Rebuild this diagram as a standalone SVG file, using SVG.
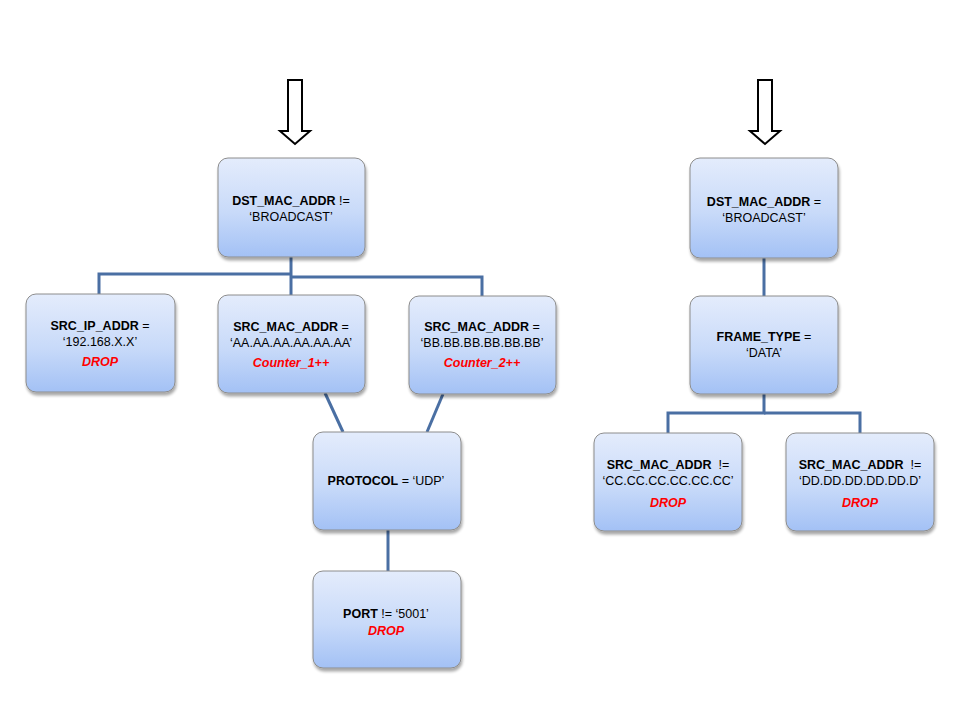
<svg xmlns="http://www.w3.org/2000/svg" width="960" height="720" viewBox="0 0 960 720">
<defs>
<linearGradient id="g" x1="0" y1="0" x2="0" y2="1">
<stop offset="0" stop-color="#e4ecfc"/>
<stop offset="0.55" stop-color="#c8daf9"/>
<stop offset="1" stop-color="#a3c1f5"/>
</linearGradient>
<filter id="sh" x="-10%" y="-10%" width="125%" height="130%">
<feGaussianBlur in="SourceAlpha" stdDeviation="1.5"/>
<feOffset dx="1" dy="2.5" result="o"/>
<feComponentTransfer><feFuncA type="linear" slope="0.35"/></feComponentTransfer>
<feMerge><feMergeNode/><feMergeNode in="SourceGraphic"/></feMerge>
</filter>
</defs>
<style>
.box{fill:url(#g);stroke:#8c8c8c;stroke-width:1;filter:url(#sh)}
text{font-family:"Liberation Sans",Arial,sans-serif;font-size:12.5px;fill:#000;text-anchor:middle}
.b{font-weight:bold}
.r{fill:#ff0000;font-weight:bold;font-style:italic}
.c{fill:none;stroke:#4a6fa3;stroke-width:3}
.arr{fill:#fff;stroke:#000;stroke-width:2}
</style>
<rect width="960" height="720" fill="#fff"/>
<g id="arrows">
<path class="arr" d="M288,80 H302 V131 H310 L295,144 L280,131 H288 Z"/>
<path class="arr" d="M758,80 H772 V131 H780 L765,144 L750,131 H758 Z"/>
</g>
<g id="connectors">
<path class="c" d="M291,257 V295"/>
<path class="c" d="M291,274 H99 V294"/>
<path class="c" d="M291,277 H482 V296"/>
<path class="c" d="M325,393 L343,432"/>
<path class="c" d="M443,394 L427,432"/>
<path class="c" d="M388,530 V571"/>
<path class="c" d="M764,258 V296"/>
<path class="c" d="M764,394 V413 H668 V433"/>
<path class="c" d="M764,413 H860 V433"/>
</g>
<g id="n1">
<rect class="box" x="218" y="158" width="147" height="99" rx="10"/>
<text x="291" y="205"><tspan class="b">DST_MAC_ADDR</tspan> !=</text>
<text x="291" y="221">‘BROADCAST’</text>
</g>
<g id="n2">
<rect class="box" x="26" y="294" width="149" height="98" rx="10"/>
<text x="100" y="330"><tspan class="b">SRC_IP_ADDR</tspan> =</text>
<text x="100" y="346">‘192.168.X.X’</text>
<text class="r" x="100" y="366">DROP</text>
</g>
<g id="n3">
<rect class="box" x="218" y="295" width="147" height="98" rx="10"/>
<text x="291" y="331"><tspan class="b">SRC_MAC_ADDR</tspan> =</text>
<text x="291" y="347">‘AA.AA.AA.AA.AA.AA’</text>
<text class="r" x="291" y="367">Counter_1++</text>
</g>
<g id="n4">
<rect class="box" x="409" y="296" width="147" height="98" rx="10"/>
<text x="482" y="331"><tspan class="b">SRC_MAC_ADDR</tspan> =</text>
<text x="482" y="347">‘BB.BB.BB.BB.BB.BB’</text>
<text class="r" x="482" y="367">Counter_2++</text>
</g>
<g id="n5">
<rect class="box" x="313" y="432" width="148" height="98" rx="10"/>
<text x="386" y="485"><tspan class="b">PROTOCOL</tspan> = ‘UDP’</text>
</g>
<g id="n6">
<rect class="box" x="313" y="571" width="148" height="97" rx="10"/>
<text x="386" y="618"><tspan class="b">PORT</tspan> != ‘5001’</text>
<text class="r" x="386" y="635">DROP</text>
</g>
<g id="n7">
<rect class="box" x="690" y="158" width="148" height="100" rx="10"/>
<text x="764" y="206"><tspan class="b">DST_MAC_ADDR</tspan> =</text>
<text x="764" y="222">‘BROADCAST’</text>
</g>
<g id="n8">
<rect class="box" x="690" y="296" width="148" height="98" rx="10"/>
<text x="764" y="341"><tspan class="b">FRAME_TYPE</tspan> =</text>
<text x="764" y="357">‘DATA’</text>
</g>
<g id="n9">
<rect class="box" x="594" y="433" width="148" height="98" rx="10"/>
<text x="668" y="469"><tspan class="b">SRC_MAC_ADDR</tspan>&#160; !=</text>
<text x="668" y="485">‘CC.CC.CC.CC.CC.CC’</text>
<text class="r" x="668" y="507">DROP</text>
</g>
<g id="n10">
<rect class="box" x="786" y="433" width="148" height="98" rx="10"/>
<text x="860" y="469"><tspan class="b">SRC_MAC_ADDR</tspan>&#160; !=</text>
<text x="860" y="485">‘DD.DD.DD.DD.DD.D’</text>
<text class="r" x="860" y="507">DROP</text>
</g>
</svg>
